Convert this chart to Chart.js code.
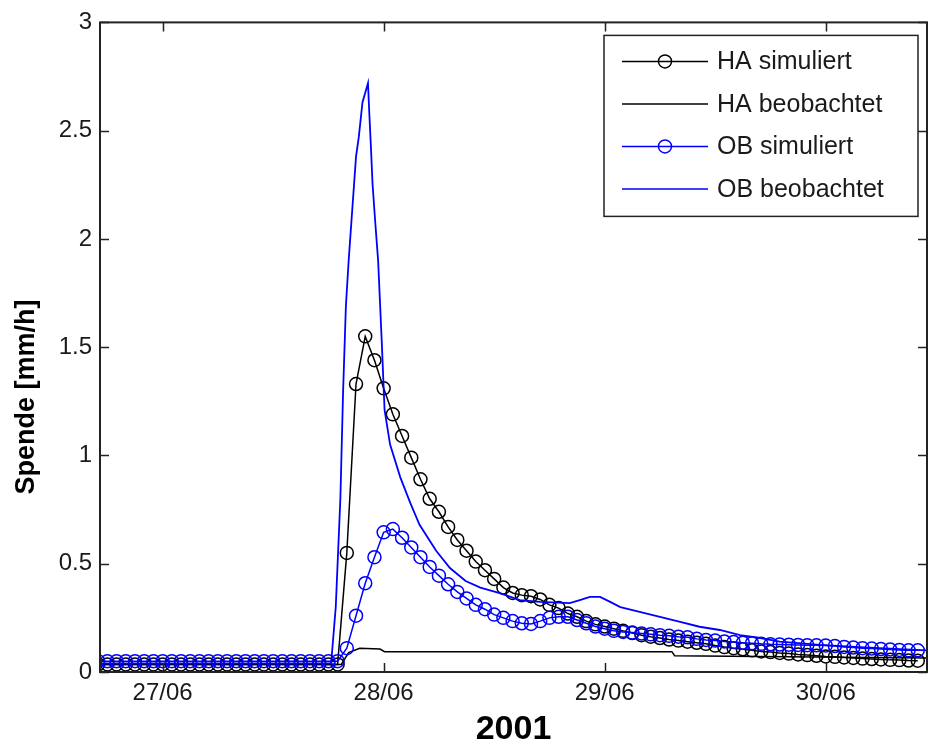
<!DOCTYPE html>
<html>
<head>
<meta charset="utf-8">
<script src="https://cdn.jsdelivr.net/npm/chart.js@4.4.0/dist/chart.umd.min.js"></script>
<style>
  html, body { margin: 0; padding: 0; background: #fff; }
  canvas { display: block; }
</style>
</head>
<body>
<canvas id="myChart" width="929" height="745"></canvas>
<script>
// x values are hours since 27/06 00:00
const simStartHour = -7; // hourly simulation values start here

const haSimuliert = [
  0.035, 0.035, 0.035, 0.035, 0.035, 0.035, 0.035, 0.035, 0.035, 0.035,
  0.035, 0.035, 0.035, 0.035, 0.035, 0.035, 0.035, 0.035, 0.035, 0.035,
  0.035, 0.035, 0.035, 0.035, 0.035, 0.035, 0.035,
  0.55, 1.33, 1.55, 1.44, 1.31, 1.19, 1.09, 0.99, 0.89, 0.80,
  0.74, 0.67, 0.61, 0.56, 0.51, 0.47, 0.43, 0.39, 0.365, 0.355,
  0.35, 0.335, 0.31, 0.295, 0.27, 0.255, 0.235, 0.22, 0.21, 0.20,
  0.19, 0.18, 0.17, 0.163, 0.157, 0.15, 0.145, 0.14, 0.135, 0.13,
  0.122, 0.115, 0.11, 0.105, 0.10, 0.095, 0.092, 0.088, 0.085, 0.081,
  0.078, 0.075, 0.072, 0.07, 0.067, 0.065, 0.062, 0.06, 0.058, 0.056,
  0.055, 0.053, 0.052
];

const obSimuliert = [
  0.05, 0.05, 0.05, 0.05, 0.05, 0.05, 0.05, 0.05, 0.05, 0.05,
  0.05, 0.05, 0.05, 0.05, 0.05, 0.05, 0.05, 0.05, 0.05, 0.05,
  0.05, 0.05, 0.05, 0.05, 0.05, 0.05, 0.05,
  0.11, 0.26, 0.41, 0.53, 0.645, 0.66, 0.62, 0.575, 0.53, 0.485,
  0.445, 0.405, 0.37, 0.34, 0.31, 0.29, 0.265, 0.25, 0.235, 0.225,
  0.222, 0.235, 0.25, 0.255, 0.255, 0.24, 0.225, 0.21, 0.20, 0.19,
  0.185, 0.182, 0.178, 0.174, 0.17, 0.167, 0.163, 0.16, 0.153, 0.148,
  0.145, 0.141, 0.138, 0.135, 0.133, 0.13, 0.128, 0.127, 0.126, 0.125,
  0.124, 0.123, 0.122, 0.12, 0.116, 0.113, 0.11, 0.108, 0.106, 0.104,
  0.102, 0.10, 0.10
];

const haBeobStunden = [-7, 19.4, 20.2, 21.4, 23.6, 24.1, 55.3, 55.6, 83];
const haBeobachtet  = [0.035, 0.035, 0.09, 0.11, 0.106, 0.094, 0.094, 0.075, 0.065];

const obBeobStunden = [
  -7, 18.3, 18.8, 19.3, 19.6, 19.9, 20.2, 20.6, 21.0, 21.3,
  21.7, 22.3, 22.4, 22.6, 22.8, 23.1, 23.4, 23.6, 23.8, 24.1,
  24.7, 25.8, 26.9, 27.9, 29.7, 31.2, 32.9, 34.5, 36.6, 38.8,
  41.0, 44.2, 45.3, 46.4, 47.5, 48.6, 49.7, 51.8, 54.0, 56.2,
  58.3, 60.5, 62.7, 64.9, 67.0, 71.4, 75.7, 80.1, 83
];
const obBeobachtet = [
  0.04, 0.04, 0.3, 0.8, 1.3, 1.69, 1.9, 2.14, 2.38, 2.47,
  2.63, 2.72, 2.62, 2.44, 2.25, 2.07, 1.9, 1.71, 1.52, 1.21,
  1.05, 0.90, 0.78, 0.68, 0.56, 0.48, 0.42, 0.39, 0.364, 0.332,
  0.324, 0.318, 0.332, 0.347, 0.347, 0.324, 0.30, 0.278, 0.255, 0.232,
  0.209, 0.194, 0.17, 0.157, 0.14, 0.125, 0.115, 0.105, 0.10
];

const dayTicks  = [0, 24, 48, 72];
const dayLabels = ['27/06', '28/06', '29/06', '30/06'];
const yTicks    = [0, 0.5, 1, 1.5, 2, 2.5, 3];
const seriesLabels = ['HA simuliert', 'HA beobachtet', 'OB simuliert', 'OB beobachtet'];
const yTitle = 'Spende [mm/h]';
const xTitle = '2001';

const FONT = '"Liberation Sans", Arial, sans-serif';
const AXIS_COLOR = '#222';

const hourly = (vals) => vals.map((v, i) => ({ x: simStartHour + i, y: v }));
const paired = (hours, vals) => hours.map((h, i) => ({ x: h, y: vals[i] }));

// MATLAB style box with inward ticks on all four sides
const boxTicks = {
  id: 'boxTicks',
  afterDatasetsDraw(chart) {
    const { ctx, chartArea: a, scales } = chart;
    const len = 9;
    ctx.save();
    ctx.strokeStyle = AXIS_COLOR;
    ctx.lineWidth = 1.5;
    ctx.beginPath();
    scales.x.ticks.forEach(t => {
      const px = Math.round(scales.x.getPixelForValue(t.value)) + 0.5;
      ctx.moveTo(px, a.bottom); ctx.lineTo(px, a.bottom - len);
      ctx.moveTo(px, a.top); ctx.lineTo(px, a.top + len);
    });
    scales.y.ticks.forEach(t => {
      const py = Math.round(scales.y.getPixelForValue(t.value)) + 0.5;
      ctx.moveTo(a.left, py); ctx.lineTo(a.left + len, py);
      ctx.moveTo(a.right, py); ctx.lineTo(a.right - len, py);
    });
    ctx.stroke();
    ctx.lineWidth = 2;
    ctx.strokeRect(a.left, a.top, a.right - a.left, a.bottom - a.top);
    ctx.restore();
  }
};

// y label sits a bit below the axis centre in the original figure
const yLabel = {
  id: 'yLabel',
  afterDraw(chart) {
    const { ctx } = chart;
    ctx.save();
    ctx.translate(27, 397);
    ctx.rotate(-Math.PI / 2);
    ctx.font = 'bold 27px ' + FONT;
    ctx.fillStyle = '#000';
    ctx.textAlign = 'center';
    ctx.textBaseline = 'middle';
    ctx.fillText(yTitle, 0, 0);
    ctx.restore();
  }
};

// legend box in the upper right corner, line + marker samples
const legendBox = {
  id: 'legendBox',
  afterDraw(chart) {
    const { ctx, chartArea: a } = chart;
    const w = 314, h = 181;
    const left = a.right - 9 - w, top = a.top + 13;
    ctx.save();
    ctx.fillStyle = '#fff';
    ctx.fillRect(left, top, w, h);
    ctx.strokeStyle = AXIS_COLOR;
    ctx.lineWidth = 1.5;
    ctx.strokeRect(left, top, w, h);
    ctx.font = '25px ' + FONT;
    ctx.textBaseline = 'middle';
    chart.data.datasets.forEach((ds, i) => {
      const y = top + 26 + i * 42.5;
      ctx.strokeStyle = ds.borderColor;
      ctx.lineWidth = 1.5;
      ctx.beginPath();
      ctx.moveTo(left + 18, y);
      ctx.lineTo(left + 104, y);
      ctx.stroke();
      if (ds.pointRadius > 0) {
        ctx.beginPath();
        ctx.arc(left + 61, y, 6.5, 0, Math.PI * 2);
        ctx.stroke();
      }
      ctx.fillStyle = '#1a1a1a';
      ctx.fillText(ds.label, left + 113, y + 1);
    });
    ctx.restore();
  }
};

const ctx = document.getElementById('myChart').getContext('2d');
new Chart(ctx, {
  type: 'line',
  data: {
    datasets: [{
      label: seriesLabels[0],
      data: hourly(haSimuliert),
      borderColor: '#000',
      borderWidth: 1.5,
      pointRadius: 6.5,
      pointBorderWidth: 1.5,
      pointBorderColor: '#000',
      pointBackgroundColor: 'rgba(0,0,0,0)',
      order: 4
    }, {
      label: seriesLabels[1],
      data: paired(haBeobStunden, haBeobachtet),
      borderColor: '#000',
      borderWidth: 1.5,
      pointRadius: 0,
      order: 3
    }, {
      label: seriesLabels[2],
      data: hourly(obSimuliert),
      borderColor: '#0000ff',
      borderWidth: 1.5,
      pointRadius: 6.5,
      pointBorderWidth: 1.5,
      pointBorderColor: '#0000ff',
      pointBackgroundColor: 'rgba(0,0,0,0)',
      order: 2
    }, {
      label: seriesLabels[3],
      data: paired(obBeobStunden, obBeobachtet),
      borderColor: '#0000ff',
      borderWidth: 1.8,
      pointRadius: 0,
      order: 1
    }]
  },
  options: {
    responsive: false,
    animation: false,
    events: [],
    layout: { autoPadding: false, padding: { top: 20, right: 2, left: 0, bottom: 0 } },
    plugins: {
      legend: { display: false },
      tooltip: { enabled: false }
    },
    elements: { line: { tension: 0 } },
    scales: {
      x: {
        type: 'linear',
        min: -6.8,
        max: 83,
        grid: { display: false, drawTicks: false },
        border: { display: false },
        afterBuildTicks: (scale) => { scale.ticks = dayTicks.map(v => ({ value: v })); },
        afterFit: (scale) => {
          scale.height = 73;
          scale.paddingLeft = 0;
          scale.paddingRight = 0;
        },
        ticks: {
          padding: 7,
          color: '#1a1a1a',
          font: { family: FONT, size: 24 },
          maxRotation: 0,
          callback: (value, index) => dayLabels[index]
        },
        title: {
          display: true,
          text: xTitle,
          color: '#000',
          font: { family: FONT, size: 34, weight: 'bold', lineHeight: 0.9 },
          padding: { top: 0, bottom: 0 }
        }
      },
      y: {
        min: 0,
        max: 3,
        grid: { display: false, drawTicks: false },
        border: { display: false },
        afterBuildTicks: (scale) => { scale.ticks = yTicks.map(v => ({ value: v })); },
        afterFit: (scale) => { scale.width = 100; },
        ticks: {
          padding: 8,
          color: '#1a1a1a',
          font: { family: FONT, size: 24 },
          callback: (value) => String(value)
        }
      }
    }
  },
  plugins: [boxTicks, yLabel, legendBox]
});
</script>
</body>
</html>
